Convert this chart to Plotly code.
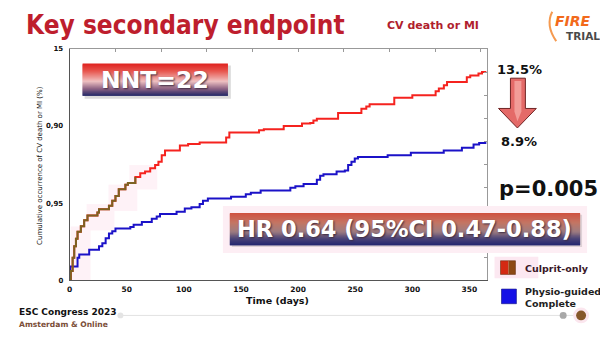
import plotly.graph_objects as go

W, H = 600, 337

# Kaplan-Meier style cumulative incidence (%) of CV death or MI
days_culprit = [0, 1, 2.6, 4, 5.5, 6.9, 9.8, 12.7, 15.6, 24.3, 25.7, 34.4, 37.3, 40.1, 43,
                48.8, 51, 57.5, 61.8, 66, 70.5, 74.8, 77.7, 80.6, 83.5, 96.5, 103.7, 113.8,
                137, 139.8, 165.8, 170, 187.4, 203.4, 210.6, 213.4, 216.4, 235, 255.4, 259.7,
                262.6, 284.2, 300, 320.4, 323.2, 327.6, 330.4, 347.7, 350.7, 357.9, 361, 365]
cum_culprit = [0, 0.6, 1.46, 2.2, 2.7, 3.15, 3.5, 3.9, 4.2, 4.4, 4.6, 4.83, 5.15, 5.46, 5.9,
               6.2, 6.3, 6.7, 6.94, 7.05, 7.26, 7.47, 7.68, 8.1, 8.42, 8.73, 8.84, 8.94,
               9.26, 9.58, 9.72, 9.79, 10.0, 10.17, 10.2, 10.36, 10.48, 10.84, 11.12, 11.27,
               11.41, 11.84, 12.0, 12.25, 12.43, 12.64, 12.85, 13.16, 13.27, 13.4, 13.5, 13.5]

days_physio = [0, 0.5, 6.9, 8.4, 17.1, 25.7, 28.6, 31.5, 34.4, 37.3, 40.1, 53.1, 56, 63.2,
               71.9, 76.2, 79.1, 93.6, 100.8, 106.6, 113.8, 116.7, 121, 141.3, 154.2, 158.6,
               167.2, 193.2, 197.6, 204.8, 216.4, 219.3, 222.2, 233.7, 240.9, 243.8, 246.7,
               249.6, 252.4, 278.4, 298.7, 327.5, 343.4, 353.6, 358.5, 365]
cum_physio = [0, 0.9, 1.46, 1.67, 1.98, 2.2, 2.4, 2.72, 3.04, 3.18, 3.35, 3.46, 3.6, 3.78,
              3.99, 4.13, 4.3, 4.45, 4.66, 4.73, 4.94, 5.15, 5.3, 5.42, 5.57, 5.68,
              5.82, 6.0, 6.1, 6.25, 6.52, 6.77, 6.88, 7.05, 7.11, 7.47, 7.68,
              7.89, 8.0, 8.1, 8.27, 8.42, 8.59, 8.8, 8.9, 8.9]

y_tickvals = [0, 5, 10, 15]
y_ticktext = ["0", "0,95", "0,90", "15"]
x_tickvals = [0, 50, 100, 150, 200, 250, 300, 350]

early_points = 18  # first weeks of the culprit-only curve drawn in olive

FONT = "DejaVu Sans"
TITLE_FONT = "DejaVu Sans Condensed, DejaVu Sans"


def px(x):
    return x / W


def py(y):
    return 1 - y / H


def hex_rgb(h):
    h = h.lstrip("#")
    return tuple(int(h[i:i + 2], 16) for i in (0, 2, 4))


def blend(stops, t):
    for (t0, c0), (t1, c1) in zip(stops, stops[1:]):
        if t <= t1:
            f = 0 if t1 == t0 else (t - t0) / (t1 - t0)
            a, b = hex_rgb(c0), hex_rgb(c1)
            return "rgb(%d,%d,%d)" % tuple(round(a[i] + (b[i] - a[i]) * f) for i in range(3))
    return "rgb(%d,%d,%d)" % hex_rgb(stops[-1][1])


shapes = []
annotations = []


def rect(x0, y0, x1, y1, fill, line=None, lw=0, layer="above", opacity=1):
    d = dict(type="rect", xref="paper", yref="paper",
             x0=px(x0), x1=px(x1), y0=py(y1), y1=py(y0),
             fillcolor=fill, opacity=opacity, layer=layer)
    d["line"] = dict(color=line, width=lw) if lw else dict(width=0)
    shapes.append(d)


def gradient_box(x0, y0, x1, y1, stops):
    # one band per pixel row, each overlapping the next so no seams show
    rows = int(y1 - y0)
    for i in range(rows):
        t = (i + 0.5) / rows
        rect(x0, y0 + i, x1, min(y0 + i + 2, y1), blend(stops, t))


def circle(cx, cy, r, fill):
    shapes.append(dict(type="circle", xref="paper", yref="paper",
                       x0=px(cx - r), x1=px(cx + r), y0=py(cy + r), y1=py(cy - r),
                       fillcolor=fill, line=dict(width=0), layer="above"))


def text(t, x, y, size, color, weight="bold", family=FONT, xanchor="left",
         yanchor="middle", angle=0, shadow=None):
    f = dict(size=size, color=color, family=family, weight=weight)
    if shadow:
        f["shadow"] = shadow
    annotations.append(dict(text=t, x=px(x), y=py(y), xref="paper", yref="paper",
                            xanchor=xanchor, yanchor=yanchor, showarrow=False,
                            textangle=angle, font=f))


fig = go.Figure()

fig.add_trace(go.Scatter(x=days_physio, y=cum_physio, mode="lines", line_shape="hv",
                         line=dict(color="#1B12C8", width=2), name="Physio-guided Complete",
                         hoverinfo="skip"))
fig.add_trace(go.Scatter(x=days_culprit, y=cum_culprit, mode="lines", line_shape="hv",
                         line=dict(color="#F5231F", width=2), name="Culprit-only",
                         hoverinfo="skip"))
fig.add_trace(go.Scatter(x=days_culprit[:early_points], y=cum_culprit[:early_points],
                         mode="lines", line_shape="hv",
                         line=dict(color="#7C6322", width=2), showlegend=False,
                         hoverinfo="skip"))
# helper trace so the mirrored tick axes are drawn
fig.add_trace(go.Scatter(x=[None], y=[None], xaxis="x2", yaxis="y2", showlegend=False,
                         hoverinfo="skip"))

# faint pink haze behind the early part of the curves
for (x0, y0, x1, y1) in [(68, 228, 88, 283), (84, 205, 112, 232), (106, 185, 135, 212),
                         (127, 165, 155, 190)]:
    rect(x0, y0, x1, y1, "#FEF2F7", layer="below")

# NNT badge
rect(82, 63, 229, 97, "rgba(0,0,0,0.14)")
gradient_box(80, 61, 226, 94, [(0, "#E0211E"), (0.25, "#E85A52"), (0.55, "#F0C2C2"),
                               (0.78, "#8E6384"), (1, "#232868")])
text("NNT=22", 153, 77.5, 23.5, "white", xanchor="center",
     shadow="1px 1px 2px #3a2a40")

# HR badge with faint pink haze
rect(221, 207, 587, 255, "#FDEEF4")
rect(230, 216, 582, 249, "rgba(0,0,0,0.12)")
gradient_box(228, 214, 580, 247, [(0, "#D0503E"), (0.3, "#C47664"), (0.58, "#9E7C80"),
                                  (0.8, "#4C4478"), (1, "#242770")])
text("HR 0.64 (95%CI 0.47-0.88)", 404, 230.5, 22.5, "white", xanchor="center",
     shadow="1px 1px 2px #3a2a40")

# percentages, arrow and p-value
text("13.5%", 494, 67, 13, "#111111")
text("8.9%", 498, 141, 13, "#111111")
text("p=0.005", 496, 190, 21, "#111111")
arrow = [(510, 76), (525, 76), (525, 107), (536, 107), (517, 127), (498, 107), (510, 107)]
path = "M " + " L ".join("%.5f,%.5f" % (px(x), py(y)) for x, y in arrow) + " Z"
shapes.append(dict(type="path", path=path, xref="paper", yref="paper",
                   fillcolor="#E46A68", line=dict(color="#6E2424", width=1), layer="above"))
inner = [(514, 79), (521, 79), (521, 110), (517, 120), (514, 110)]
path2 = "M " + " L ".join("%.5f,%.5f" % (px(x), py(y)) for x, y in inner) + " Z"
shapes.append(dict(type="path", path=path2, xref="paper", yref="paper",
                   fillcolor="#F29C98", line=dict(width=0), layer="above"))

# legend
rect(494, 259, 538, 281, "#FCE8F1")
rect(500, 263, 508, 277, "#D42A12")
rect(508, 263, 515, 277, "#8C4A14")
rect(500, 263, 515, 277, "rgba(0,0,0,0)", line="#6A3010", lw=0.6)
text("Culprit-only", 523, 270.5, 9.5, "#3A1828")
rect(501, 292, 516, 307, "#1410E6", line="#0C0C80", lw=0.6)
text("Physio-guided", 523, 294, 9.5, "#1E1E1E")
text("Complete", 523, 306.5, 9.5, "#1E1E1E")

# title and subtitle
text("Key secondary endpoint", 21, 22, 26, "#BE1E2D", family=TITLE_FONT)
text("CV death or MI", 384, 22, 11, "#B01E2E")

# logo
text("<i>FIRE</i>", 553, 17, 14, "#F26A1B")
text("TRIAL", 564, 33, 10.5, "#4A4A4A")
shapes.append(dict(type="path", xref="paper", yref="paper",
                   path="M %f,%f Q %f,%f %f,%f" % (px(552), py(8), px(545), py(22), px(556), py(38)),
                   line=dict(color="#F59A50", width=2)))

# axis titles
text("Time (days)", 276, 304, 9.5, "#111111", xanchor="center")
text("Cumulative occurrence of CV death or MI (%)", 37, 165, 7, "#111111",
     weight="normal", xanchor="center", angle=-90)

# footer
shapes.append(dict(type="line", xref="paper", yref="paper", x0=px(118), x1=px(580),
                   y0=py(319), y1=py(319), line=dict(color="#E2E2E2", width=1)))
circle(118, 319, 3, "#E4E4E4")
circle(563, 319, 3.5, "#A8A8A8")
circle(581, 319, 8, "#FBE6EE")
circle(581, 319, 5, "#86582A")
text("ESC Congress 2023", 14, 316, 9, "#111111")
text("Amsterdam & Online", 14, 328, 7.6, "#7B4E38")

x_dom = [px(67), px(486)]
y_dom = [py(283), py(46)]

fig.update_layout(
    width=W, height=H,
    margin=dict(l=0, r=0, t=0, b=0),
    paper_bgcolor="white", plot_bgcolor="white",
    showlegend=False,
    shapes=shapes, annotations=annotations,
    xaxis=dict(domain=x_dom, range=[0, 365], tickvals=x_tickvals, showgrid=False,
               zeroline=False, showline=True, linecolor="#555555", linewidth=1,
               ticks="", tickfont=dict(family=FONT, size=7.5, color="#111111", weight="bold"),
               ticklabelstandoff=2),
    yaxis=dict(domain=y_dom, range=[0, 15], tickvals=y_tickvals, ticktext=y_ticktext,
               showgrid=False, zeroline=False, showline=True, linecolor="#555555",
               linewidth=1, ticks="", ticklabelstandoff=4,
               tickfont=dict(family=FONT, size=7, color="#111111", weight="bold")),
    xaxis2=dict(domain=x_dom, range=[0, 365], overlaying="x", side="top", anchor="y2",
                dtick=40, tick0=0, ticks="inside", ticklen=3, tickcolor="#999999",
                showticklabels=False, showgrid=False, zeroline=False, showline=True,
                linecolor="#999999", linewidth=1),
    yaxis2=dict(domain=y_dom, range=[0, 15], overlaying="y", side="right", anchor="x2",
                dtick=1.5, tick0=0, ticks="inside", ticklen=3, tickcolor="#999999",
                showticklabels=False, showgrid=False, zeroline=False, showline=True,
                linecolor="#999999", linewidth=1),
)

fig.write_html("out.html")
